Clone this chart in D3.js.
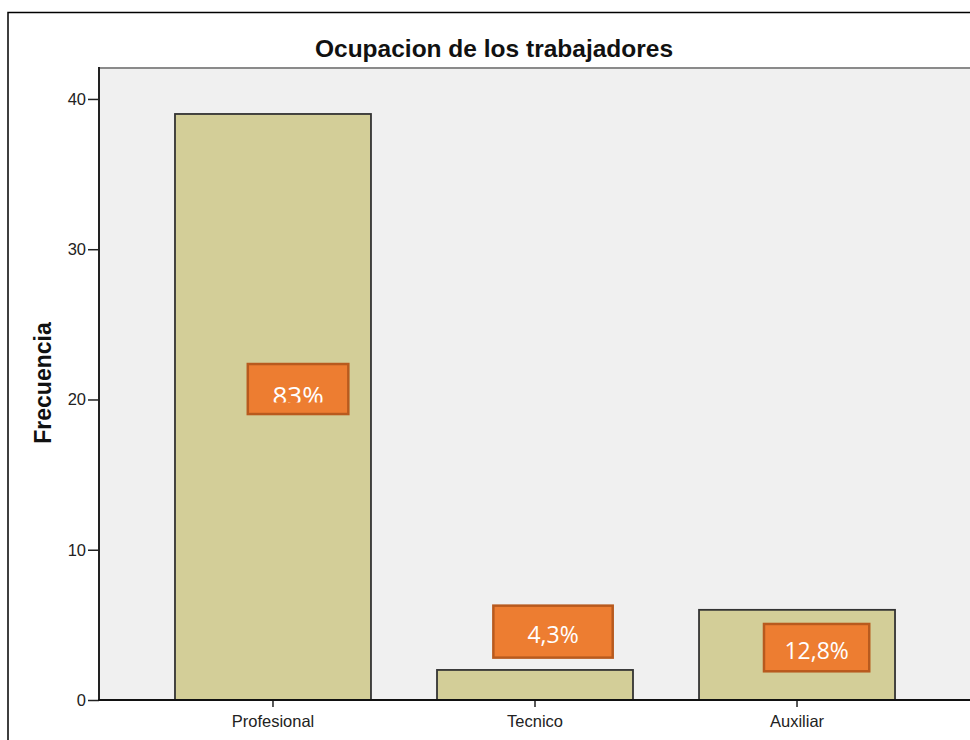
<!DOCTYPE html>
<html>
<head>
<meta charset="utf-8">
<script src="https://cdn.jsdelivr.net/npm/d3@7"></script>
<style>
  body { margin: 0; background: #fff; }
  svg { display: block; }
</style>
</head>
<body>
<div id="chart"></div>
<script>
// data
const categories = ["Profesional", "Tecnico", "Auxiliar"];
const frequencies = [39, 2, 6];
const yTicks = [0, 10, 20, 30, 40];
const percentLabels = ["83%", "4,3%", "12,8%"];

// annotation boxes, in band fraction (x) and frequency units (y)
const boxLayout = [
  { cx: 0.628, w: 0.513, top: 22.36, bottom: 19.03, base: 19.62, size: 26, clip: 19.8 },
  { cx: 0.592, w: 0.609, top: 6.28, bottom: 2.82, base: 3.81, size: 23 },
  { cx: 0.600, w: 0.537, top: 5.06, bottom: 1.91, base: 2.71, size: 23 }
];

const W = 970, H = 740;
const plot = { left: 99, top: 68, right: 971, bottom: 700 };

const svg = d3.select("#chart").append("svg")
  .attr("width", W)
  .attr("height", H);

// outer frame
svg.append("rect")
  .attr("x", 8).attr("y", 12.5)
  .attr("width", W + 20).attr("height", H + 20)
  .attr("fill", "#fff")
  .attr("stroke", "#000")
  .attr("stroke-width", 1.5);

const x = d3.scaleBand()
  .domain(categories)
  .range([plot.left, plot.right])
  .paddingInner(0.252)
  .paddingOuter(0.29);

const y = d3.scaleLinear()
  .domain([0, 42.06])
  .range([plot.bottom, plot.top]);

// plot background
svg.append("rect")
  .attr("x", plot.left).attr("y", plot.top)
  .attr("width", plot.right - plot.left)
  .attr("height", plot.bottom - plot.top)
  .attr("fill", "#f0f0f0");

svg.append("line")
  .attr("x1", plot.left).attr("x2", W)
  .attr("y1", plot.top).attr("y2", plot.top)
  .attr("stroke", "#8a8a8a")
  .attr("stroke-width", 2);

// bars
svg.selectAll("rect.bar")
  .data(frequencies)
  .join("rect")
  .attr("class", "bar")
  .attr("x", (d, i) => x(categories[i]))
  .attr("y", d => y(d))
  .attr("width", x.bandwidth())
  .attr("height", d => y(0) - y(d))
  .attr("fill", "#d3ce98")
  .attr("stroke", "#333")
  .attr("stroke-width", 1.8);

// axes
const yAxis = svg.append("g")
  .attr("transform", `translate(${plot.left},0)`)
  .call(d3.axisLeft(y).tickValues(yTicks).tickSize(11).tickPadding(2));
yAxis.select(".domain").remove();
yAxis.selectAll("line").attr("stroke", "#222").attr("stroke-width", 1.5);
yAxis.selectAll("text")
  .style("font-family", "'Liberation Sans', Arial, sans-serif")
  .style("font-size", "16.5px")
  .attr("fill", "#222");

svg.append("line")
  .attr("x1", plot.left).attr("x2", plot.left)
  .attr("y1", plot.top - 1).attr("y2", plot.bottom)
  .attr("stroke", "#222")
  .attr("stroke-width", 2);

const xAxis = svg.append("g")
  .attr("transform", `translate(0,${plot.bottom})`)
  .call(d3.axisBottom(x).tickSize(7).tickPadding(8));
xAxis.select(".domain").remove();
xAxis.selectAll("line").attr("stroke", "#222").attr("stroke-width", 1.5);
xAxis.selectAll("text")
  .style("font-family", "'Liberation Sans', Arial, sans-serif")
  .style("font-size", "16.5px")
  .attr("fill", "#222");

svg.append("line")
  .attr("x1", plot.left - 1).attr("x2", W)
  .attr("y1", plot.bottom).attr("y2", plot.bottom)
  .attr("stroke", "#111")
  .attr("stroke-width", 2);

// title and y label
svg.append("text")
  .attr("x", 494)
  .attr("y", 57)
  .attr("text-anchor", "middle")
  .style("font-family", "'Liberation Sans', Arial, sans-serif")
  .style("font-weight", "bold")
  .style("font-size", "24.5px")
  .attr("fill", "#111")
  .text("Ocupacion de los trabajadores");

svg.append("text")
  .attr("transform", "translate(51,383) rotate(-90)")
  .attr("text-anchor", "middle")
  .style("font-family", "'Liberation Sans', Arial, sans-serif")
  .style("font-weight", "bold")
  .style("font-size", "23px")
  .attr("fill", "#111")
  .text("Frecuencia");

// percentage boxes
const defs = svg.append("defs");
percentLabels.forEach((label, i) => {
  const b = boxLayout[i];
  const bw = x.bandwidth();
  const cx = x(categories[i]) + b.cx * bw;
  const w = b.w * bw;
  const y0 = y(b.top), y1 = y(b.bottom);

  svg.append("rect")
    .attr("x", cx - w / 2).attr("y", y0)
    .attr("width", w).attr("height", y1 - y0)
    .attr("fill", "#ed7d31")
    .attr("stroke", "#b85a1e")
    .attr("stroke-width", 2.5);

  const t = svg.append("text")
    .attr("x", cx)
    .attr("y", y(b.base))
    .attr("text-anchor", "middle")
    .style("font-family", "'Open Sans', 'Noto Sans', sans-serif")
    .style("font-size", b.size + "px")
    .attr("fill", "#fff")
    .text(label);

  if (b.clip !== undefined) {
    const id = "clip" + i;
    defs.append("clipPath").attr("id", id)
      .append("rect")
      .attr("x", cx - w / 2).attr("y", y0)
      .attr("width", w).attr("height", y(b.clip) - y0);
    t.attr("clip-path", `url(#${id})`);
  }
});
</script>
</body>
</html>
